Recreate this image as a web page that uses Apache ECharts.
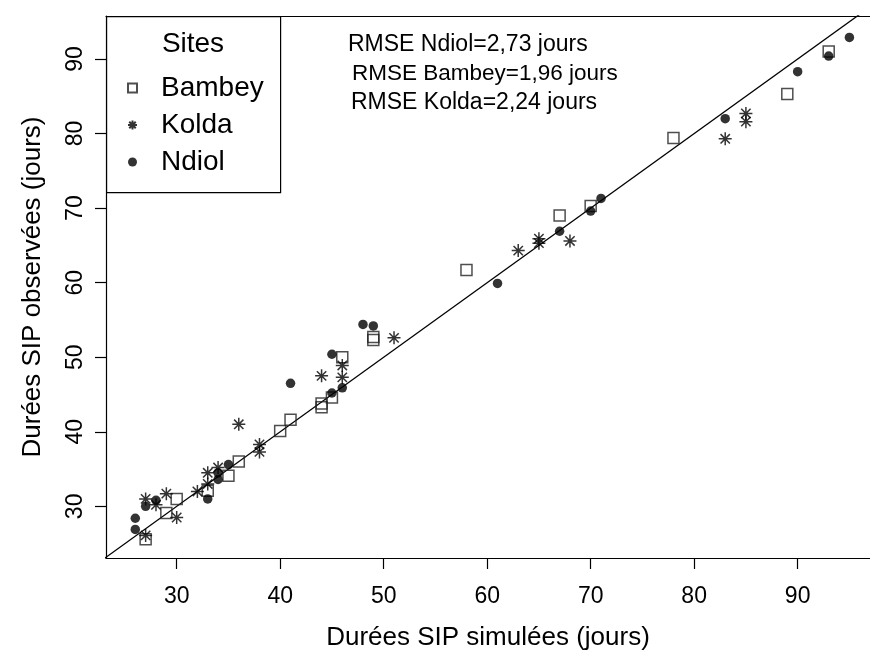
<!DOCTYPE html>
<html>
<head>
<meta charset="utf-8">
<script src="https://cdn.jsdelivr.net/npm/echarts@6/dist/echarts.min.js"></script>
<style>html,body{margin:0;padding:0;background:#fff}#c{width:870px;height:656px}</style>
</head>
<body>
<div id="c"></div>
<script>
// ---- data (simulated, observed) ----
const bambey = [[27,25.6],[29,29.1],[30,31.0],[33,32.1],[35,34.1],[36,36.0],[40,40.1],[41,41.6],[44,43.3],[44,43.8],[45,44.6],[46,50.0],[49,52.3],[49,52.7],[58,61.7],[67,69.0],[70,70.3],[78,79.4],[89,85.3],[93,91.0]];
const kolda = [[27,26.1],[27,31.0],[28,30.2],[29,31.7],[30,28.5],[32,32.0],[33,33.0],[33,34.5],[34,35.2],[36,41.0],[38,37.3],[38,38.3],[44,47.5],[46,47.3],[46,48.9],[51,52.6],[63,64.3],[65,65.3],[65,65.9],[68,65.6],[83,79.3],[85,81.6],[85,82.7]];
const ndiol = [[26,26.9],[26,28.4],[27,30.0],[28,30.8],[33,31.0],[34,33.6],[34,34.5],[35,35.6],[41,46.5],[45,45.2],[45,50.4],[46,45.9],[48,54.4],[49,54.2],[61,59.9],[67,66.9],[70,69.6],[71,71.3],[83,82.0],[90,88.3],[93,90.4],[95,92.9]];
const xTicks = [30,40,50,60,70,80,90];
const yTicks = [30,40,50,60,70,80,90];
const rmseLines = ['RMSE Ndiol=2,73 jours','RMSE Bambey=1,96 jours','RMSE Kolda=2,24 jours'];
const xTitle = 'Durées SIP simulées (jours)';
const yTitle = 'Durées SIP observées (jours)';
const legendTitle = 'Sites';
const siteNames = ['Bambey','Kolda','Ndiol'];

// plot region runs past the right edge of the picture (cropped), so x max is where the canvas ends
const xMin = 23.17, xMax = 96.99, yMin = 23.07, yMax = 95.77;
const FONT = '"Liberation Sans", Arial, Helvetica, sans-serif';
const star = 'path://M0,-1L0,1M-1,0L1,0M-0.72,-0.72L0.72,0.72M-0.72,0.72L0.72,-0.72';
const LW = 1.2;

const chart = echarts.init(document.getElementById('c'), null, {renderer:'canvas'});
chart.setOption({
  animation:false,
  backgroundColor:'#fff',
  grid:{left:106, top:16, right:0, bottom:95, show:false},
  xAxis:[
    {type:'value', min:xMin, max:xMax, splitLine:{show:false}, position:'bottom',
      axisLine:{show:true, onZero:false, lineStyle:{color:'#000', width:LW}},
      axisTick:{show:true, inside:false, length:11, lineStyle:{color:'#000', width:LW}, customValues:xTicks},
      axisLabel:{show:true, customValues:xTicks, color:'#000', fontSize:23, fontFamily:FONT, margin:27},
      name:xTitle, nameLocation:'middle', nameGap:67, nameTextStyle:{color:'#000', fontSize:26, fontFamily:FONT}},
    {type:'value', min:xMin, max:xMax, splitLine:{show:false}, position:'top',
      axisLine:{show:true, onZero:false, lineStyle:{color:'#000', width:LW}},
      axisTick:{show:false}, axisLabel:{show:false}}
  ],
  yAxis:{type:'value', min:yMin, max:yMax, splitLine:{show:false},
    axisLine:{show:true, onZero:false, lineStyle:{color:'#000', width:LW}},
    axisTick:{show:true, inside:false, length:11, lineStyle:{color:'#000', width:LW}, customValues:yTicks},
    axisLabel:{show:true, customValues:yTicks, rotate:90, color:'#000', fontSize:23, fontFamily:FONT, margin:19},
    name:yTitle, nameLocation:'middle', nameGap:60, nameRotate:90, nameTextStyle:{color:'#000', fontSize:26, fontFamily:FONT}},
  legend:{orient:'vertical', left:127, top:74, padding:0, itemWidth:9, itemHeight:9, itemGap:9, z:20,
    data:siteNames,
    textStyle:{color:'#000', fontSize:28, fontFamily:FONT, lineHeight:27, padding:[0,0,0,19]}},
  graphic:[
    {type:'rect', left:106, top:16, shape:{width:174, height:176}, style:{fill:'#fff', stroke:'#000', lineWidth:LW}, z:2},
    {type:'text', x:193, y:44, style:{text:legendTitle, fill:'#000', font:'28px '+FONT, textAlign:'center', textVerticalAlign:'middle'}, z:6},
    {type:'text', x:348, y:45, style:{text:rmseLines[0], fill:'#000', font:'23px '+FONT, textVerticalAlign:'middle'}},
    {type:'text', x:352, y:74, style:{text:rmseLines[1], fill:'#000', font:'22.5px '+FONT, textVerticalAlign:'middle'}},
    {type:'text', x:351, y:103, style:{text:rmseLines[2], fill:'#000', font:'23px '+FONT, textVerticalAlign:'middle'}}
  ],
  series:[
    {name:'1:1', type:'line', data:[[0,0],[120,120]], showSymbol:false, symbol:'none', lineStyle:{color:'#000', width:1.3}, clip:true, silent:true, z:1},
    {name:siteNames[0], type:'scatter', data:bambey, symbol:'rect', symbolSize:11,
      itemStyle:{color:'rgba(255,255,255,0)', borderColor:'#222', borderWidth:1.5}, z:3},
    {name:siteNames[1], type:'scatter', data:kolda, symbol:star, symbolSize:13,
      itemStyle:{color:'rgba(0,0,0,0)', borderColor:'#000', borderWidth:1.5}, z:3},
    {name:siteNames[2], type:'scatter', data:ndiol, symbol:'circle', symbolSize:9.5,
      itemStyle:{color:'#000', borderWidth:0}, z:3}
  ]
});
</script>
</body>
</html>
